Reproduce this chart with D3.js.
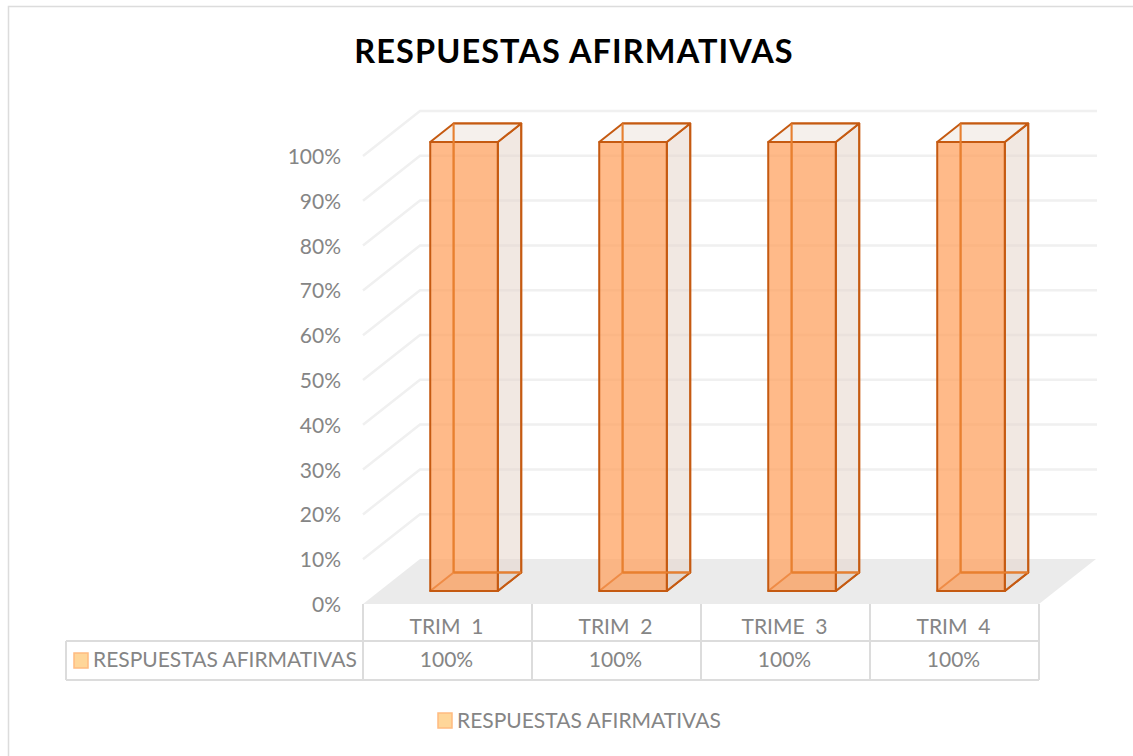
<!DOCTYPE html>
<html><head><meta charset="utf-8">
<script src="https://cdnjs.cloudflare.com/ajax/libs/d3/7.8.5/d3.min.js"></script>
<style>html,body{margin:0;padding:0;background:#fff}svg{display:block}text{font-family:Lato,"Open Sans",sans-serif}</style>
</head><body><svg id="c" width="1133" height="756"></svg>
<script>
const chartTitle = "RESPUESTAS AFIRMATIVAS";
const seriesName = "RESPUESTAS AFIRMATIVAS";
const categories = ["TRIM  1","TRIM  2","TRIME  3","TRIM  4"];
const values = [1,1,1,1];
const yTicks = [0,.1,.2,.3,.4,.5,.6,.7,.8,.9,1];

const svg = d3.select("#c");
const x = d3.scaleBand().domain(categories).range([363,1039]).paddingInner(.6).paddingOuter(.3);
const y = d3.scaleLinear().domain([0,1]).range([604,156]);
const dx = d3.scaleLinear().domain([0,1]).range([0,57]);
const dy = d3.scaleLinear().domain([0,1]).range([0,-45]);
const pct = d3.format(".0%");
const P = (px,py,d)=>[px+dx(d),py+dy(d)];
const pts = a=>a.map(p=>p.join(",")).join(" ");
const GRID="#f0f0f0", DARK="#c55a11", TXT="#858585", RULE="#dcdcdc";

// chart frame
svg.append("path").attr("d","M8.5,756V6.5H1133").attr("fill","none").attr("stroke",RULE).attr("stroke-width",1.5);

// title
svg.append("text").attr("x",574).attr("y",63).attr("text-anchor","middle")
  .attr("font-size",32.5).attr("font-weight",700).attr("letter-spacing",1.1).attr("fill","#000").text(chartTitle);

// gridlines
const xL=x.range()[0], xR=x.range()[1];
svg.append("g").selectAll("polyline").data(yTicks.slice(1)).join("polyline")
  .attr("points",t=>pts([[xL,y(t)],P(xL,y(t),1),[1097,y(t)+dy(1)]]))
  .attr("fill","none").attr("stroke",GRID).attr("stroke-width",2.5);

// floor
svg.append("polygon").attr("points",pts([[xL,y(0)],[xR,y(0)],P(xR,y(0),1),P(xL,y(0),1)])).attr("fill","#ebebeb");

// y axis labels
svg.append("g").selectAll("text").data(yTicks).join("text")
  .attr("x",341).attr("y",t=>y(t)+8).attr("text-anchor","end")
  .attr("font-size",21).attr("fill",TXT).text(pct);

// bars
const d0=.29,d1=.70;
const bars = svg.append("g").selectAll("g").data(categories.map((c,i)=>({c,v:values[i]}))).join("g");
const w=x.bandwidth();
const yb=d=>y(0), yt=d=>y(d.v)-1;
const face=(f,fill,op)=>bars.append("polygon").attr("points",d=>pts(f(d))).attr("fill",fill).attr("fill-opacity",op)
   .attr("stroke",DARK).attr("stroke-width",2).attr("stroke-linejoin","round");
const X=d=>x(d.c);
// back
face(d=>[P(X(d),yt(d),d1),P(X(d)+w,yt(d),d1),P(X(d)+w,yb(d),d1),P(X(d),yb(d),d1)],"#e8ddd6",.15);
// bottom
face(d=>[P(X(d),yb(d),d0),P(X(d)+w,yb(d),d0),P(X(d)+w,yb(d),d1),P(X(d),yb(d),d1)],"#c9bdb5",.35);
// right
face(d=>[P(X(d)+w,yt(d),d0),P(X(d)+w,yt(d),d1),P(X(d)+w,yb(d),d1),P(X(d)+w,yb(d),d0)],"#e6d6cc",.5);
// top
face(d=>[P(X(d),yt(d),d0),P(X(d)+w,yt(d),d0),P(X(d)+w,yt(d),d1),P(X(d),yt(d),d1)],"#f3ede8",.8);
// front
face(d=>[P(X(d),yt(d),d0),P(X(d)+w,yt(d),d0),P(X(d)+w,yb(d),d0),P(X(d),yb(d),d0)],"#ff9f5c",.72);
// inner vertical seen through the front
bars.append("line").attr("x1",d=>P(X(d),0,d1)[0]).attr("x2",d=>P(X(d),0,d1)[0])
  .attr("y1",d=>P(0,yt(d),d1)[1]).attr("y2",d=>P(0,yb(d),d1)[1]).attr("stroke","#e8802f").attr("stroke-width",2);
bars.append("line").attr("x1",d=>P(X(d),0,d1)[0]).attr("x2",d=>P(X(d)+w,0,d1)[0])
  .attr("y1",d=>P(0,yb(d),d1)[1]).attr("y2",d=>P(0,yb(d),d1)[1]).attr("stroke","#e8802f").attr("stroke-width",2);

// data table
const step=x.step();
const rowY=[604,641,680], tblL=66;
const tbl=svg.append("g").attr("stroke",RULE).attr("stroke-width",2).attr("fill","none");
const edges=d3.range(categories.length+1).map(i=>xL+i*step);
tbl.selectAll(".v").data(edges).join("line").attr("x1",e=>e).attr("x2",e=>e).attr("y1",rowY[0]).attr("y2",rowY[2]);
tbl.append("line").attr("x1",tblL).attr("x2",xR).attr("y1",rowY[1]).attr("y2",rowY[1]);
tbl.append("line").attr("x1",tblL).attr("x2",xR).attr("y1",rowY[2]).attr("y2",rowY[2]);
tbl.append("line").attr("x1",tblL).attr("x2",tblL).attr("y1",rowY[1]).attr("y2",rowY[2]);
categories.forEach((c,i)=>{
  const cx=edges[i]+step/2;
  svg.append("text").attr("x",cx-1).attr("y",634).attr("text-anchor","middle").style("white-space","pre").attr("font-size",21).attr("fill",TXT).text(c);
  svg.append("text").attr("x",cx-1).attr("y",667).attr("text-anchor","middle").attr("font-size",21).attr("fill",TXT).text(pct(values[i]));
});
const swatch=(sx,sy)=>svg.append("rect").attr("x",sx).attr("y",sy).attr("width",14).attr("height",15)
  .attr("fill","#ffd699").attr("stroke","#ffbb80").attr("stroke-width",1.5);
swatch(74,653);
svg.append("text").attr("x",93).attr("y",667).attr("font-size",21).attr("fill",TXT).text(seriesName);

// legend
swatch(438,713);
svg.append("text").attr("x",457).attr("y",728).attr("font-size",21).attr("fill",TXT).text(seriesName);
</script></body></html>
